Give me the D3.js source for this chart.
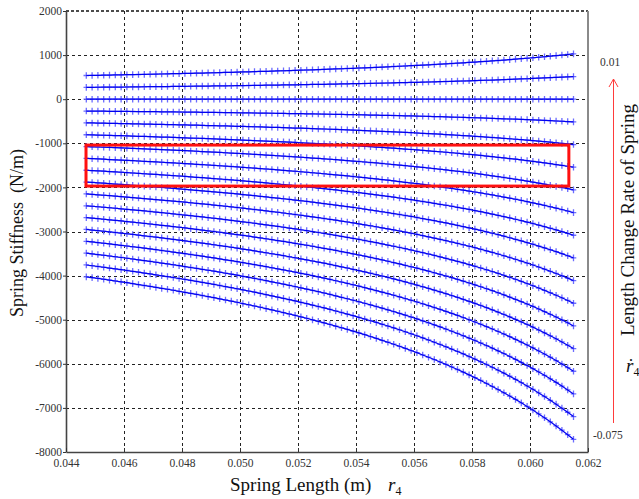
<!DOCTYPE html>
<html>
<head>
<meta charset="utf-8">
<script src="https://cdn.jsdelivr.net/npm/d3@7"></script>
<style>
  body { margin: 0; background: #fff; }
  svg { display: block; font-family: "Liberation Serif", "Times New Roman", serif; }
</style>
</head>
<body>
<svg id="chart" width="639" height="499"></svg>
<script>
// spring length r4 (m) at each sample
const springLength = [
  0.0447, 0.0449, 0.0451, 0.0453, 0.0455, 0.0457, 0.0459, 0.0461, 0.0463, 0.0465,
  0.0467, 0.0469, 0.0471, 0.0473, 0.0475, 0.0477, 0.0479, 0.0481, 0.0483, 0.0485,
  0.0487, 0.0489, 0.0491, 0.0493, 0.0495, 0.0497, 0.0499, 0.0501, 0.0503, 0.0505,
  0.0507, 0.0509, 0.0511, 0.0513, 0.0515, 0.0517, 0.0519, 0.0521, 0.0523, 0.0525,
  0.0527, 0.0529, 0.0531, 0.0533, 0.0535, 0.0537, 0.0539, 0.0541, 0.0543, 0.0545,
  0.0547, 0.0549, 0.0551, 0.0553, 0.0555, 0.0557, 0.0559, 0.0561, 0.0563, 0.0565,
  0.0567, 0.0569, 0.0571, 0.0573, 0.0575, 0.0577, 0.0579, 0.0581, 0.0583, 0.0585,
  0.0587, 0.0589, 0.0591, 0.0593, 0.0595, 0.0597, 0.0599, 0.0601, 0.0603, 0.0605,
  0.0607, 0.0609, 0.0611, 0.0613, 0.0615
];

// length change rate of spring for each curve, top to bottom
const changeRates = [0.01, 0.005, 0, -0.005, -0.01, -0.015, -0.02, -0.025, -0.03,
  -0.035, -0.04, -0.045, -0.05, -0.055, -0.06, -0.065, -0.07, -0.075];

// spring stiffness (N/m): one row per spring length sample, one column per change rate
const stiffnessRows = [
  [537, 269, 0, -269, -537, -806, -1074, -1343, -1611, -1880, -2148, -2417, -2685, -2954, -3222, -3491, -3759, -4028],
  [539, 270, 0, -270, -539, -809, -1079, -1349, -1618, -1888, -2158, -2427, -2697, -2967, -3236, -3506, -3776, -4046],
  [542, 271, 0, -271, -542, -813, -1084, -1355, -1626, -1897, -2168, -2439, -2710, -2981, -3252, -3523, -3794, -4065],
  [544, 272, 0, -272, -544, -817, -1089, -1361, -1633, -1905, -2178, -2450, -2722, -2994, -3266, -3539, -3811, -4083],
  [547, 274, 0, -274, -547, -821, -1094, -1368, -1641, -1915, -2188, -2462, -2735, -3009, -3282, -3556, -3829, -4103],
  [550, 275, 0, -275, -550, -824, -1099, -1374, -1649, -1924, -2198, -2473, -2748, -3023, -3298, -3572, -3847, -4122],
  [552, 276, 0, -276, -552, -828, -1104, -1381, -1657, -1933, -2209, -2485, -2761, -3037, -3313, -3589, -3865, -4142],
  [555, 277, 0, -277, -555, -832, -1110, -1387, -1664, -1942, -2219, -2497, -2774, -3051, -3329, -3606, -3884, -4161],
  [558, 279, 0, -279, -558, -836, -1115, -1394, -1673, -1952, -2230, -2509, -2788, -3067, -3346, -3624, -3903, -4182],
  [560, 280, 0, -280, -560, -841, -1121, -1401, -1681, -1961, -2242, -2522, -2802, -3082, -3362, -3643, -3923, -4203],
  [563, 282, 0, -282, -563, -845, -1126, -1408, -1690, -1971, -2253, -2534, -2816, -3098, -3379, -3661, -3942, -4224],
  [566, 283, 0, -283, -566, -849, -1132, -1415, -1698, -1981, -2264, -2547, -2830, -3113, -3396, -3679, -3962, -4245],
  [569, 284, 0, -284, -569, -853, -1138, -1422, -1706, -1991, -2275, -2560, -2844, -3128, -3413, -3697, -3982, -4266],
  [572, 286, 0, -286, -572, -858, -1144, -1430, -1715, -2001, -2287, -2573, -2859, -3145, -3431, -3717, -4003, -4289],
  [575, 287, 0, -287, -575, -862, -1149, -1437, -1724, -2011, -2298, -2586, -2873, -3160, -3448, -3735, -4022, -4310],
  [578, 289, 0, -289, -578, -866, -1155, -1444, -1733, -2022, -2310, -2599, -2888, -3177, -3466, -3754, -4043, -4332],
  [581, 290, 0, -290, -581, -871, -1162, -1452, -1742, -2033, -2323, -2614, -2904, -3194, -3485, -3775, -4066, -4356],
  [584, 292, 0, -292, -584, -876, -1168, -1460, -1751, -2043, -2335, -2627, -2919, -3211, -3503, -3795, -4087, -4379],
  [587, 294, 0, -294, -587, -881, -1174, -1468, -1761, -2055, -2348, -2642, -2935, -3229, -3522, -3816, -4109, -4403],
  [590, 295, 0, -295, -590, -885, -1180, -1476, -1771, -2066, -2361, -2656, -2951, -3246, -3541, -3836, -4131, -4427],
  [593, 297, 0, -297, -593, -890, -1187, -1484, -1780, -2077, -2374, -2670, -2967, -3264, -3560, -3857, -4154, -4451],
  [597, 298, 0, -298, -597, -895, -1194, -1492, -1790, -2089, -2387, -2686, -2984, -3282, -3581, -3879, -4178, -4476],
  [600, 300, 0, -300, -600, -900, -1200, -1500, -1800, -2100, -2400, -2700, -3000, -3300, -3600, -3900, -4200, -4500],
  [603, 302, 0, -302, -603, -905, -1207, -1509, -1810, -2112, -2414, -2715, -3017, -3319, -3620, -3922, -4224, -4526],
  [607, 304, 0, -304, -607, -911, -1214, -1518, -1821, -2125, -2428, -2732, -3035, -3339, -3642, -3946, -4249, -4553],
  [610, 305, 0, -305, -610, -916, -1221, -1526, -1831, -2136, -2442, -2747, -3052, -3357, -3662, -3968, -4273, -4578],
  [614, 307, 0, -307, -614, -921, -1228, -1535, -1842, -2149, -2456, -2763, -3070, -3377, -3684, -3991, -4298, -4605],
  [618, 309, 0, -309, -618, -927, -1236, -1545, -1853, -2162, -2471, -2780, -3089, -3398, -3707, -4016, -4325, -4634],
  [621, 311, 0, -311, -621, -932, -1243, -1554, -1864, -2175, -2486, -2796, -3107, -3418, -3728, -4039, -4350, -4661],
  [625, 313, 0, -313, -625, -938, -1250, -1563, -1876, -2188, -2501, -2813, -3126, -3439, -3751, -4064, -4376, -4689],
  [629, 315, 0, -315, -629, -944, -1258, -1573, -1887, -2202, -2516, -2831, -3145, -3460, -3774, -4089, -4403, -4718],
  [633, 317, 0, -317, -633, -950, -1266, -1583, -1899, -2216, -2532, -2849, -3165, -3482, -3798, -4115, -4431, -4748],
  [637, 319, 0, -319, -637, -956, -1274, -1593, -1911, -2230, -2548, -2867, -3185, -3504, -3822, -4141, -4459, -4778],
  [641, 321, 0, -321, -641, -962, -1282, -1603, -1923, -2244, -2564, -2885, -3205, -3526, -3846, -4167, -4487, -4808],
  [645, 323, 0, -323, -645, -968, -1290, -1613, -1936, -2258, -2581, -2903, -3226, -3549, -3871, -4194, -4516, -4839],
  [649, 325, 0, -325, -649, -974, -1299, -1624, -1948, -2273, -2598, -2922, -3247, -3572, -3896, -4221, -4546, -4871],
  [654, 327, 0, -327, -654, -980, -1307, -1634, -1961, -2288, -2614, -2941, -3268, -3595, -3922, -4248, -4575, -4902],
  [658, 329, 0, -329, -658, -987, -1316, -1645, -1974, -2303, -2632, -2961, -3290, -3619, -3948, -4277, -4606, -4935],
  [662, 331, 0, -331, -662, -994, -1325, -1656, -1987, -2318, -2650, -2981, -3312, -3643, -3974, -4306, -4637, -4968],
  [667, 334, 0, -334, -667, -1001, -1334, -1668, -2001, -2335, -2668, -3002, -3335, -3669, -4002, -4336, -4669, -5003],
  [672, 336, 0, -336, -672, -1007, -1343, -1679, -2015, -2351, -2686, -3022, -3358, -3694, -4030, -4365, -4701, -5037],
  [676, 338, 0, -338, -676, -1014, -1352, -1691, -2029, -2367, -2705, -3043, -3381, -3719, -4057, -4395, -4733, -5072],
  [681, 341, 0, -341, -681, -1022, -1362, -1703, -2043, -2384, -2724, -3065, -3405, -3746, -4086, -4427, -4767, -5108],
  [686, 343, 0, -343, -686, -1029, -1372, -1715, -2058, -2401, -2744, -3087, -3430, -3773, -4116, -4459, -4802, -5145],
  [691, 346, 0, -346, -691, -1037, -1382, -1728, -2073, -2419, -2764, -3110, -3455, -3801, -4146, -4492, -4837, -5183],
  [696, 348, 0, -348, -696, -1044, -1392, -1740, -2088, -2436, -2784, -3132, -3480, -3828, -4176, -4524, -4872, -5220],
  [701, 351, 0, -351, -701, -1052, -1402, -1753, -2104, -2454, -2805, -3155, -3506, -3857, -4207, -4558, -4908, -5259],
  [707, 353, 0, -353, -707, -1060, -1413, -1767, -2120, -2473, -2826, -3180, -3533, -3886, -4240, -4593, -4946, -5300],
  [712, 356, 0, -356, -712, -1068, -1424, -1780, -2136, -2492, -2848, -3204, -3560, -3916, -4272, -4628, -4984, -5340],
  [718, 359, 0, -359, -718, -1076, -1435, -1794, -2153, -2512, -2870, -3229, -3588, -3947, -4306, -4664, -5023, -5382],
  [723, 362, 0, -362, -723, -1085, -1446, -1808, -2170, -2531, -2893, -3254, -3616, -3978, -4339, -4701, -5062, -5424],
  [729, 365, 0, -365, -729, -1094, -1458, -1823, -2187, -2552, -2916, -3281, -3645, -4010, -4374, -4739, -5103, -5468],
  [735, 367, 0, -367, -735, -1102, -1470, -1837, -2204, -2572, -2939, -3307, -3674, -4041, -4409, -4776, -5144, -5511],
  [741, 370, 0, -370, -741, -1111, -1482, -1852, -2222, -2593, -2963, -3334, -3704, -4074, -4445, -4815, -5186, -5556],
  [747, 374, 0, -374, -747, -1121, -1494, -1868, -2241, -2615, -2988, -3362, -3735, -4109, -4482, -4856, -5229, -5603],
  [753, 377, 0, -377, -753, -1130, -1507, -1884, -2260, -2637, -3014, -3390, -3767, -4144, -4520, -4897, -5274, -5651],
  [760, 380, 0, -380, -760, -1140, -1520, -1900, -2279, -2659, -3039, -3419, -3799, -4179, -4559, -4939, -5319, -5699],
  [766, 383, 0, -383, -766, -1150, -1533, -1916, -2299, -2682, -3066, -3449, -3832, -4215, -4598, -4982, -5365, -5748],
  [773, 387, 0, -387, -773, -1160, -1546, -1933, -2320, -2706, -3093, -3479, -3866, -4253, -4639, -5026, -5412, -5799],
  [780, 390, 0, -390, -780, -1170, -1560, -1950, -2340, -2730, -3120, -3510, -3900, -4290, -4680, -5070, -5460, -5850],
  [787, 394, 0, -394, -787, -1181, -1574, -1968, -2362, -2755, -3149, -3542, -3936, -4330, -4723, -5117, -5510, -5904],
  [794, 397, 0, -397, -794, -1192, -1589, -1986, -2383, -2780, -3178, -3575, -3972, -4369, -4766, -5164, -5561, -5958],
  [802, 401, 0, -401, -802, -1203, -1604, -2005, -2405, -2806, -3207, -3608, -4009, -4410, -4811, -5212, -5613, -6014],
  [809, 405, 0, -405, -809, -1214, -1619, -2024, -2428, -2833, -3238, -3642, -4047, -4452, -4856, -5261, -5666, -6071],
  [817, 409, 0, -409, -817, -1226, -1634, -2043, -2452, -2860, -3269, -3677, -4086, -4495, -4903, -5312, -5720, -6129],
  [825, 413, 0, -413, -825, -1238, -1650, -2063, -2476, -2888, -3301, -3713, -4126, -4539, -4951, -5364, -5776, -6189],
  [833, 417, 0, -417, -833, -1250, -1667, -2084, -2500, -2917, -3334, -3750, -4167, -4584, -5000, -5417, -5834, -6251],
  [842, 421, 0, -421, -842, -1263, -1684, -2105, -2525, -2946, -3367, -3788, -4209, -4630, -5051, -5472, -5893, -6314],
  [850, 425, 0, -425, -850, -1276, -1701, -2126, -2551, -2976, -3402, -3827, -4252, -4677, -5102, -5528, -5953, -6378],
  [859, 430, 0, -430, -859, -1289, -1719, -2149, -2578, -3008, -3438, -3867, -4297, -4727, -5156, -5586, -6016, -6446],
  [868, 434, 0, -434, -868, -1303, -1737, -2171, -2605, -3039, -3474, -3908, -4342, -4776, -5210, -5645, -6079, -6513],
  [878, 439, 0, -439, -878, -1317, -1756, -2195, -2633, -3072, -3511, -3950, -4389, -4828, -5267, -5706, -6145, -6584],
  [887, 444, 0, -444, -887, -1331, -1775, -2219, -2662, -3106, -3550, -3993, -4437, -4881, -5324, -5768, -6212, -6656],
  [897, 449, 0, -449, -897, -1346, -1795, -2244, -2692, -3141, -3590, -4038, -4487, -4936, -5384, -5833, -6282, -6731],
  [908, 454, 0, -454, -908, -1361, -1815, -2269, -2723, -3177, -3630, -4084, -4538, -4992, -5446, -5899, -6353, -6807],
  [918, 459, 0, -459, -918, -1377, -1836, -2295, -2754, -3213, -3672, -4131, -4590, -5049, -5508, -5967, -6426, -6885],
  [929, 464, 0, -464, -929, -1393, -1858, -2322, -2786, -3251, -3715, -4180, -4644, -5108, -5573, -6037, -6502, -6966],
  [940, 470, 0, -470, -940, -1410, -1880, -2350, -2819, -3289, -3759, -4229, -4699, -5169, -5639, -6109, -6579, -7049],
  [951, 476, 0, -476, -951, -1427, -1903, -2379, -2854, -3330, -3806, -4281, -4757, -5233, -5708, -6184, -6660, -7136],
  [963, 482, 0, -482, -963, -1445, -1926, -2408, -2890, -3371, -3853, -4334, -4816, -5298, -5779, -6261, -6742, -7224],
  [975, 488, 0, -488, -975, -1463, -1951, -2439, -2926, -3414, -3902, -4389, -4877, -5365, -5852, -6340, -6828, -7316],
  [988, 494, 0, -494, -988, -1482, -1976, -2470, -2963, -3457, -3951, -4445, -4939, -5433, -5927, -6421, -6915, -7409],
  [1001, 500, 0, -500, -1001, -1501, -2002, -2502, -3002, -3503, -4003, -4504, -5004, -5504, -6005, -6505, -7006, -7506],
  [1014, 507, 0, -507, -1014, -1521, -2028, -2536, -3043, -3550, -4057, -4564, -5071, -5578, -6085, -6592, -7099, -7607],
  [1028, 514, 0, -514, -1028, -1542, -2056, -2571, -3085, -3599, -4113, -4627, -5141, -5655, -6169, -6683, -7197, -7712]
];

const lengthTicks = [0.044, 0.046, 0.048, 0.050, 0.052, 0.054, 0.056, 0.058, 0.060, 0.062];
const stiffnessTicks = [2000, 1000, 0, -1000, -2000, -3000, -4000, -5000, -6000, -7000, -8000];
const rateEndLabels = ['0.01', '-0.075'];

// red box around the highlighted curves
const highlightLength = [0.04469, 0.06134];
const highlightStiffness = [-1040, -1970];

const svg = d3.select('#chart');
const plot = { left: 66, right: 588, top: 11, bottom: 452 };

const x = d3.scaleLinear()
  .domain([lengthTicks[0], lengthTicks[lengthTicks.length - 1]])
  .range([plot.left, plot.right]);
const y = d3.scaleLinear()
  .domain([stiffnessTicks[stiffnessTicks.length - 1], stiffnessTicks[0]])
  .range([plot.bottom, plot.top]);

svg.append('rect').attr('width', 639).attr('height', 499).attr('fill', '#fff');

// dashed grid
const grid = svg.append('g')
  .attr('stroke', '#222')
  .attr('stroke-width', 1)
  .attr('stroke-dasharray', '3,3');

grid.selectAll('line.v')
  .data(lengthTicks.slice(1, -1))
  .join('line')
  .attr('class', 'v')
  .attr('x1', (d) => Math.round(x(d)) + 0.5)
  .attr('x2', (d) => Math.round(x(d)) + 0.5)
  .attr('y1', plot.top)
  .attr('y2', plot.bottom);

grid.selectAll('line.h')
  .data(stiffnessTicks.slice(1, -1))
  .join('line')
  .attr('class', 'h')
  .attr('x1', plot.left)
  .attr('x2', plot.right)
  .attr('y1', (d) => Math.round(y(d)) + 0.5)
  .attr('y2', (d) => Math.round(y(d)) + 0.5);

// curves
const series = changeRates.map((rate, j) => ({
  rate,
  points: springLength.map((r, i) => ({ r, k: stiffnessRows[i][j] })),
}));

const line = d3.line()
  .x((d) => x(d.r))
  .y((d) => y(d.k));

const curves = svg.append('g')
  .selectAll('g.curve')
  .data(series)
  .join('g')
  .attr('class', 'curve');

// '+' markers
curves.append('path')
  .attr('fill', 'none')
  .attr('stroke', '#6c6cff')
  .attr('stroke-width', 1.3)
  .attr('d', (s) => s.points.map((p) => {
    const px = x(p.r);
    const py = y(p.k);
    return `M${px - 2.8},${py}h5.6M${px},${py - 3.3}v6.6`;
  }).join(''));

curves.append('path')
  .attr('fill', 'none')
  .attr('stroke', '#0000f0')
  .attr('stroke-width', 1.2)
  .attr('d', (s) => line(s.points));

// highlight box
svg.append('rect')
  .attr('x', x(highlightLength[0]))
  .attr('y', y(highlightStiffness[0]))
  .attr('width', x(highlightLength[1]) - x(highlightLength[0]))
  .attr('height', y(highlightStiffness[1]) - y(highlightStiffness[0]))
  .attr('fill', 'none')
  .attr('stroke', '#ff1010')
  .attr('stroke-width', 3);

// frame: dashed top, grey right
svg.append('line')
  .attr('x1', plot.left).attr('x2', plot.right)
  .attr('y1', plot.top).attr('y2', plot.top)
  .attr('stroke', '#111').attr('stroke-width', 1.5)
  .attr('stroke-dasharray', '3,2');
svg.append('line')
  .attr('x1', plot.right).attr('x2', plot.right)
  .attr('y1', plot.top).attr('y2', plot.bottom)
  .attr('stroke', '#8a8a8a').attr('stroke-width', 2);

// axes
const yAxis = svg.append('g')
  .attr('transform', `translate(${plot.left},0)`)
  .call(d3.axisLeft(y)
    .tickValues(stiffnessTicks)
    .tickFormat((d) => String(d))
    .tickSizeInner(3)
    .tickSizeOuter(0)
    .tickPadding(1));

const xAxis = svg.append('g')
  .attr('transform', `translate(0,${plot.bottom})`)
  .call(d3.axisBottom(x)
    .tickValues(lengthTicks)
    .tickFormat((d) => d.toFixed(3))
    .tickSizeInner(-4)
    .tickSizeOuter(0)
    .tickPadding(7));

[yAxis, xAxis].forEach((g) => {
  g.select('.domain').attr('stroke', '#444').attr('stroke-width', 1.6);
  g.selectAll('.tick line').attr('stroke', '#333');
  g.selectAll('.tick text')
    .attr('fill', '#333')
    .style('font-family', '"Liberation Serif", "Times New Roman", serif')
    .style('font-size', '11.5px');
});

// axis titles
svg.append('text')
  .attr('transform', 'translate(23,233) rotate(-90)')
  .attr('text-anchor', 'middle')
  .attr('fill', '#111')
  .style('font-size', '18px')
  .text('Spring Stiffness\u00a0 (N/m)');

svg.append('text')
  .attr('x', 230)
  .attr('y', 491)
  .attr('fill', '#111')
  .style('font-size', '19px')
  .text('Spring Length (m)');

const r4 = svg.append('text')
  .attr('x', 388)
  .attr('y', 491)
  .attr('fill', '#111')
  .style('font-size', '19px');
r4.append('tspan').style('font-style', 'italic').text('r');
r4.append('tspan').attr('dy', 4).style('font-size', '12px').text('4');

// right side: change rate scale
svg.append('text')
  .attr('x', 600).attr('y', 66)
  .attr('fill', '#333')
  .style('font-size', '11.5px')
  .text(rateEndLabels[0]);
svg.append('text')
  .attr('x', 593).attr('y', 439)
  .attr('fill', '#333')
  .style('font-size', '11.5px')
  .text(rateEndLabels[1]);

svg.append('line')
  .attr('x1', 613.5).attr('x2', 613.5)
  .attr('y1', 79).attr('y2', 423)
  .attr('stroke', '#ff3b3b').attr('stroke-width', 1);
svg.append('path')
  .attr('d', 'M609,87L613.5,79L618,87')
  .attr('fill', 'none')
  .attr('stroke', '#ff3b3b')
  .attr('stroke-width', 1);

svg.append('text')
  .attr('transform', 'translate(634,220) rotate(-90)')
  .attr('text-anchor', 'middle')
  .attr('fill', '#111')
  .style('font-size', '19px')
  .text('Length Change Rate of Spring');

const rdot = svg.append('text')
  .attr('x', 626)
  .attr('y', 372)
  .attr('fill', '#111')
  .style('font-size', '19px');
rdot.append('tspan').style('font-style', 'italic').text('\u1e59');
rdot.append('tspan').attr('dy', 4).style('font-size', '12px').text('4');
</script>
</body>
</html>
